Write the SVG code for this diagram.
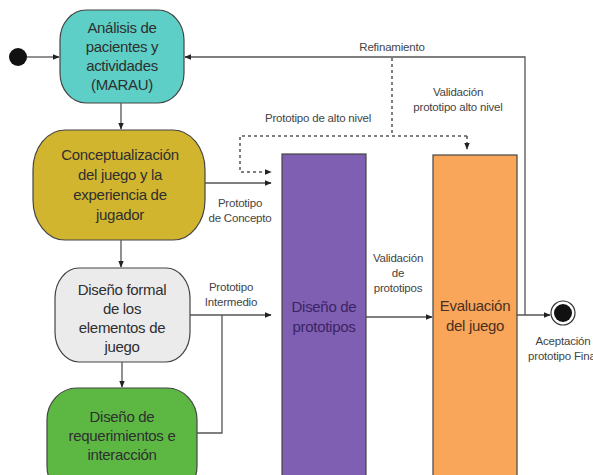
<svg xmlns="http://www.w3.org/2000/svg" width="593" height="475" viewBox="0 0 593 475">
<defs>
<marker id="ah" viewBox="0 0 10 10" refX="9" refY="5" markerWidth="7" markerHeight="7" orient="auto" markerUnits="userSpaceOnUse"><path d="M0,1 L10,5 L0,9 z" fill="#222"/></marker>
<style>
.n{stroke:#444;stroke-width:1.2}
.t{font-family:"Liberation Sans",Arial,sans-serif;font-size:15px;text-anchor:middle;fill:#2f2f2f;letter-spacing:-0.3px}
.l{font-family:"Liberation Sans",Arial,sans-serif;font-size:11.5px;text-anchor:middle;fill:#444;letter-spacing:-0.2px}
.c{fill:none;stroke:#555;stroke-width:1.3}
.d{fill:none;stroke:#555;stroke-width:1.5;stroke-dasharray:3,3}
</style>
</defs>
<rect width="593" height="475" fill="#fff"/>
<g id="start"><circle cx="18" cy="57" r="9" fill="#111"/></g>
<g id="analisis">
<rect class="n" x="60" y="10" width="124" height="93" rx="26" ry="30" fill="#5dcfc6"/>
<text class="t" x="122" y="33">Análisis de</text>
<text class="t" x="122" y="52">pacientes y</text>
<text class="t" x="122" y="71">actividades</text>
<text class="t" x="122" y="90">(MARAU)</text>
</g>
<g id="conceptualizacion">
<rect class="n" x="33" y="130" width="172" height="110" rx="32" ry="40" fill="#d2b52e"/>
<text class="t" x="120" y="160">Conceptualización</text>
<text class="t" x="120" y="180">del juego y la</text>
<text class="t" x="120" y="200">experiencia de</text>
<text class="t" x="120" y="220">jugador</text>
</g>
<g id="disenoformal">
<rect class="n" x="55" y="268" width="135" height="94" rx="24" ry="30" fill="#ebebeb"/>
<text class="t" x="122" y="295">Diseño formal</text>
<text class="t" x="122" y="314">de los</text>
<text class="t" x="122" y="333">elementos de</text>
<text class="t" x="122" y="352">juego</text>
</g>
<g id="requerimientos">
<rect class="n" x="47" y="388" width="150" height="110" rx="30" ry="32" fill="#5cb843"/>
<text class="t" x="122" y="422">Diseño de</text>
<text class="t" x="122" y="441">requerimientos e</text>
<text class="t" x="122" y="460">interacción</text>
</g>
<g id="prototipos">
<rect class="n" x="282" y="154" width="84" height="330" fill="#7e5fb2"/>
<text class="t" x="324" y="312" style="fill:#3c2466">Diseño de</text>
<text class="t" x="324" y="332" style="fill:#3c2466">prototipos</text>
</g>
<g id="evaluacion">
<rect class="n" x="433" y="155" width="84" height="330" fill="#f9a65a"/>
<text class="t" x="475" y="311" style="fill:#4a3020">Evaluación</text>
<text class="t" x="475" y="331" style="fill:#4a3020">del juego</text>
</g>
<g id="end">
<circle cx="563" cy="313" r="12" fill="#fff" stroke="#333" stroke-width="1.2"/>
<circle cx="563" cy="313" r="9" fill="#111"/>
</g>
<g id="connectors">
<path class="c" d="M27,57 H59" marker-end="url(#ah)"/>
<path class="c" d="M121,103 V129" marker-end="url(#ah)"/>
<path class="c" d="M121,240 V267" marker-end="url(#ah)"/>
<path class="c" d="M122,362 V387" marker-end="url(#ah)"/>
<path class="c" d="M205,183 H271" marker-end="url(#ah)"/>
<path class="c" d="M190,315 H271" marker-end="url(#ah)"/>
<path class="c" d="M197,433 H222 V315"/>
<path class="c" d="M366,317 H432" marker-end="url(#ah)"/>
<path class="c" d="M517,315 H550" marker-end="url(#ah)"/>
<path class="c" d="M525,315 V57 H185" marker-end="url(#ah)"/>
<path class="d" d="M392,58 V136"/>
<path class="d" d="M467,136 H240 V172 H271" marker-end="url(#ah)"/>
<path class="d" d="M467,136 V149" marker-end="url(#ah)"/>
</g>
<g id="labels">
<text class="l" x="392" y="51">Refinamiento</text>
<text class="l" x="458" y="96">Validación</text>
<text class="l" x="458" y="111">prototipo alto nivel</text>
<text class="l" x="318" y="122">Prototipo de alto nivel</text>
<text class="l" x="240" y="207">Prototipo</text>
<text class="l" x="240" y="222">de Concepto</text>
<text class="l" x="231" y="291">Prototipo</text>
<text class="l" x="231" y="306">Intermedio</text>
<text class="l" x="398" y="262">Validación</text>
<text class="l" x="398" y="277">de</text>
<text class="l" x="398" y="292">prototipos</text>
<text class="l" x="563" y="345">Aceptación</text>
<text class="l" x="563" y="360">prototipo Final</text>
</g>
</svg>
